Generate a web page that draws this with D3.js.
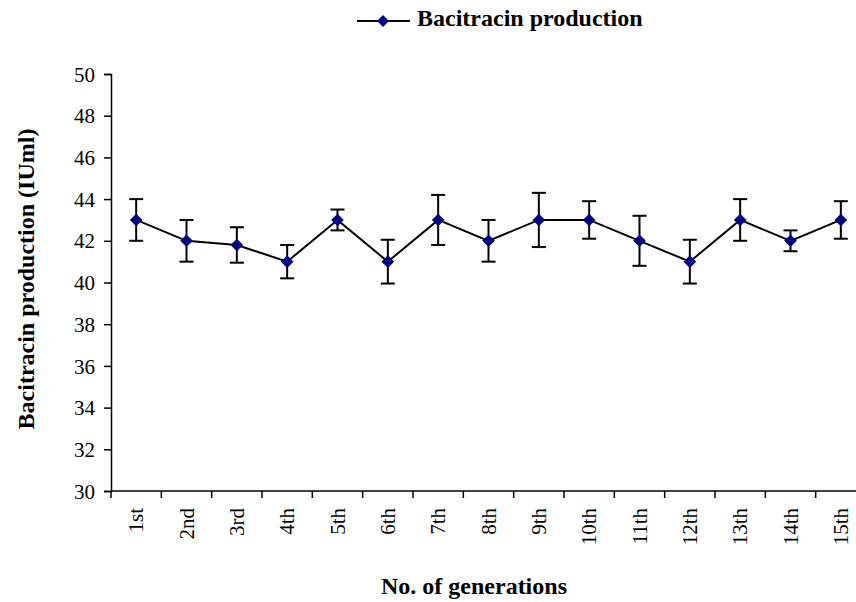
<!DOCTYPE html>
<html lang="en">
    <head>
        <meta charset="utf-8" />
        <script src="https://cdnjs.cloudflare.com/ajax/libs/d3/7.8.5/d3.min.js"></script>
        <style>
            body { margin: 0; background: #fff; }
            text { font-family: 'Liberation Serif', 'Times New Roman', serif; fill: #000; }
        </style>
        <title>Bacitracin production</title>
    </head>
    <body>
        <div id="chart"></div>
        <script>

        // Data
        const generations = ['1st', '2nd', '3rd', '4th', '5th', '6th', '7th', '8th',
            '9th', '10th', '11th', '12th', '13th', '14th', '15th'];
        const production = [43, 42, 41.8, 41, 43, 41, 43, 42, 43, 43, 42, 41, 43, 42, 43];
        const errors = [1, 1, 0.85, 0.8, 0.5, 1.05, 1.2, 1, 1.3, 0.9, 1.2, 1.05, 1, 0.5, 0.9];
        const yTicks = [30, 32, 34, 36, 38, 40, 42, 44, 46, 48, 50];

        const width = 856;
        const height = 602;
        const margin = { top: 74, right: -10, bottom: 111, left: 111 };
        const innerW = width - margin.left - margin.right;
        const innerH = height - margin.top - margin.bottom;

        const svg = d3
            .select('#chart')
            .append('svg')
            .attr('width', width)
            .attr('height', height);

        const g = svg.append('g').attr('transform', `translate(${margin.left}, ${margin.top})`);

        //Scales
        const x = d3.scaleBand().domain(generations).range([0, innerW]);
        const y = d3.scaleLinear().domain([30, 50]).range([innerH, 0]);
        const cx = (d) => x(d) + x.bandwidth() / 2;

        //Axes
        const yAxis = g.append('g').call(d3.axisLeft(y).tickValues(yTicks).tickSize(7).tickPadding(9));
        yAxis.select('.domain').attr('stroke-width', 1.5);
        yAxis.selectAll('.tick line').attr('stroke-width', 1.5);
        yAxis.selectAll('text').style('font-size', '21px').attr('dy', '0.34em');

        // excel style: ticks between categories
        const xAxis = g.append('g').attr('transform', `translate(0, ${innerH})`);
        xAxis.append('line')
            .attr('x1', 0).attr('x2', innerW)
            .attr('stroke', '#000').attr('stroke-width', 1.5);
        xAxis.selectAll('.xtick')
            .data(generations)
            .enter()
            .append('line')
            .attr('x1', (d) => x(d)).attr('x2', (d) => x(d))
            .attr('y1', 0).attr('y2', 7)
            .attr('stroke', '#000').attr('stroke-width', 1.5);
        xAxis.selectAll('.xlabel')
            .data(generations)
            .enter()
            .append('text')
            .attr('transform', (d) => `translate(${cx(d) + 7}, 17) rotate(-90)`)
            .attr('text-anchor', 'end')
            .style('font-size', '21px')
            .text((d) => d);

        //Error bars
        const pts = generations.map((d, i) => ({ gen: d, v: production[i], e: errors[i] }));
        const eb = g.append('g').attr('stroke', '#000').attr('stroke-width', 2);
        eb.selectAll('.ev')
            .data(pts)
            .enter()
            .append('line')
            .attr('x1', (d) => cx(d.gen)).attr('x2', (d) => cx(d.gen))
            .attr('y1', (d) => y(d.v + d.e)).attr('y2', (d) => y(d.v - d.e));
        [1, -1].forEach((s) => {
            eb.selectAll('.cap' + s)
                .data(pts)
                .enter()
                .append('line')
                .attr('x1', (d) => cx(d.gen) - 7).attr('x2', (d) => cx(d.gen) + 7)
                .attr('y1', (d) => y(d.v + s * d.e)).attr('y2', (d) => y(d.v + s * d.e));
        });

        //Line
        const line = d3.line().x((d) => cx(d.gen)).y((d) => y(d.v));
        g.append('path')
            .datum(pts)
            .attr('d', line)
            .attr('fill', 'none')
            .attr('stroke', '#000')
            .attr('stroke-width', 2);

        const diamond = d3.symbol().type(d3.symbolSquare).size(80);
        g.selectAll('.pt')
            .data(pts)
            .enter()
            .append('path')
            .attr('d', diamond)
            .attr('transform', (d) => `translate(${cx(d.gen)}, ${y(d.v)}) rotate(45)`)
            .attr('fill', '#000080');

        //Legend
        const lg = svg.append('g').attr('transform', 'translate(357, 21)');
        lg.append('line').attr('x1', 0).attr('x2', 53).attr('stroke', '#000').attr('stroke-width', 2);
        lg.append('path').attr('d', d3.symbol().type(d3.symbolSquare).size(72))
            .attr('transform', 'translate(26, 0) rotate(45)').attr('fill', '#000080');
        lg.append('text').attr('x', 60).attr('y', 5)
            .style('font-size', '24px').style('font-weight', 'bold')
            .text('Bacitracin production');

        //Titles
        svg.append('text')
            .attr('x', 474).attr('y', 594)
            .attr('text-anchor', 'middle')
            .style('font-size', '24px').style('font-weight', 'bold')
            .text('No. of generations');
        svg.append('text')
            .attr('transform', 'translate(34, 279) rotate(-90)')
            .attr('text-anchor', 'middle')
            .style('font-size', '24px').style('font-weight', 'bold')
            .text('Bacitracin production (IUml)');

        </script>
    </body>
</html>
